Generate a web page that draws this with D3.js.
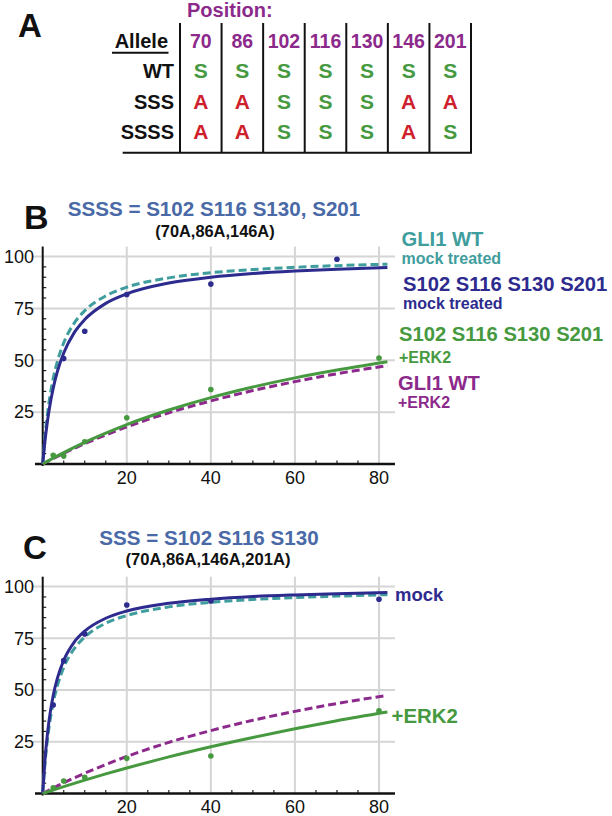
<!DOCTYPE html>
<html><head><meta charset="utf-8">
<script src="https://cdn.jsdelivr.net/npm/d3@7"></script>
<style>
html,body{margin:0;padding:0;background:#fff;}
svg{display:block;font-family:"Liberation Sans",Arial,Helvetica,sans-serif;}
</style></head>
<body>
<svg id="fig" width="612" height="816"></svg>
<script>
// ---------- Panel A data ----------
const positions = ["70","86","102","116","130","146","201"];
const alleles = ["WT","SSS","SSSS"];
const residues = [
  ["S","S","S","S","S","S","S"],
  ["A","A","S","S","S","A","A"],
  ["A","A","S","S","S","A","S"]
];

// ---------- Panels B/C data ----------
const xTicks = [20,40,60,80];
const yTicks = [25,50,75,100];
const curveX = [0,0.5,1,1.5,2.5,3.5,5,7.5,10,15,20,30,40,50,60,70,82];

// Panel B curves
const bWtMock   = [0,12.3,21.8,29.6,41.2,49.5,58.4,67.9,73.9,81.0,85.2,89.7,92.2,93.7,94.8,95.6,96.3];
const bSsssMock = [0,10.3,18.7,25.7,36.5,44.6,53.5,63.3,69.6,77.4,82.0,87.2,90.0,91.8,93.0,93.9,94.7];
const bSsssErk  = [0,0.58,1.15,1.72,2.83,3.92,5.51,8.05,10.46,14.9,19.0,26.0,32.0,37.1,41.5,45.3,49.3];
const bWtErk    = [0,0.54,1.07,1.6,2.64,3.66,5.15,7.54,9.81,14.0,17.9,24.7,30.4,35.4,39.7,43.5,47.4];
// Panel B measured points
const bPtsMockX = [5,10,20,40,70];
const bPtsMockY = [50.8,64,81.7,86.7,98.7];
const bPtsErkX  = [2.5,5,10,20,40,80];
const bPtsErkY  = [4.2,3.8,10.7,22.3,35.9,51.1];

// Panel C curves
const cWtMock  = [0,13.5,23.8,31.9,43.8,52.1,60.9,70.0,75.6,82.3,86.0,90.2,92.4,93.8,94.7,95.4,96.1];
const cSssMock = [0,15.2,26.4,35.1,47.4,55.8,64.4,73.2,78.5,84.7,88.2,91.9,93.9,95.2,96.0,96.6,97.2];
const cSssErk  = [0,0.34,0.67,1.01,1.67,2.33,3.31,4.9,6.46,9.46,12.3,17.7,22.6,27.1,31.3,35.2,39.4];
const cWtErk   = [0,0.54,1.07,1.6,2.64,3.66,5.15,7.54,9.81,14.0,17.9,24.7,30.4,35.4,39.7,43.5,47.4];
// Panel C measured points
const cPtsMockX = [2.5,5,10,20,40,80];
const cPtsMockY = [42.8,64.2,77.1,91.1,93.1,93.9];
const cPtsErkX  = [2.5,5,10,20,40,80];
const cPtsErkY  = [2.8,6,7.8,17,18.1,40];

// ---------- colours ----------
const PURPLE = "#8c2a8c", GREEN = "#46993f", RED = "#cf1f2d",
      TEAL = "#3f9d9d", NAVY = "#2d2b8e", TBLUE = "#4a69a7", GRID = "#d5d5d5";

const svg = d3.select("#fig");

function txt(g, x, y, s, size, color, anchor, weight) {
  return g.append("text").attr("x", x).attr("y", y).text(s)
    .attr("font-size", size).attr("fill", color || "#111")
    .attr("text-anchor", anchor || "start")
    .attr("font-weight", weight || "bold");
}

// ================= Panel A =================
const gA = svg.append("g");
txt(gA, 18, 37, "A", 33, "#111");
const colX = d3.scaleBand().domain(positions).range([180, 471]);
const rowY = d3.scalePoint().domain(alleles).range([78.3, 139.3]);
txt(gA, 187, 17, "Position:", 20, PURPLE);
txt(gA, 168, 48.3, "Allele", 20, "#111", "end");
gA.append("line").attr("x1", 112).attr("x2", 168.5).attr("y1", 52.7).attr("y2", 52.7)
  .attr("stroke", "#111").attr("stroke-width", 2);
positions.forEach(p => txt(gA, colX(p) + colX.bandwidth()/2, 48.3, p, 19.5, PURPLE, "middle"));
alleles.forEach((a, i) => {
  txt(gA, 174, rowY(a), a, 20, "#111", "end");
  residues[i].forEach((r, j) => {
    txt(gA, colX(positions[j]) + colX.bandwidth()/2, rowY(a), r, 21,
        r === "S" ? GREEN : RED, "middle");
  });
});
const vLines = positions.map(p => colX(p)).concat([colX.range()[1]]);
gA.selectAll("line.v").data(vLines).enter().append("line")
  .attr("x1", d => d).attr("x2", d => d).attr("y1", 23).attr("y2", 153)
  .attr("stroke", "#111").attr("stroke-width", 2);
gA.append("line").attr("x1", 122.7).attr("x2", 472).attr("y1", 152.7).attr("y2", 152.7)
  .attr("stroke", "#111").attr("stroke-width", 2);

// ================= plotting helper =================
function panel(cfg) {
  const g = svg.append("g");
  const x = d3.scaleLinear().domain([0, 80]).range([42.7, 379]);
  const y = d3.scaleLinear().domain([0, 100]).range([cfg.y0, cfg.y100]);
  const xEnd = x(83.8), yTop = y(104.8);

  // gridlines
  g.selectAll("line.hg").data(yTicks).enter().append("line")
    .attr("x1", 33).attr("x2", xEnd).attr("y1", d => y(d)).attr("y2", d => y(d))
    .attr("stroke", GRID).attr("stroke-width", 2);
  g.selectAll("line.vg").data(xTicks).enter().append("line")
    .attr("x1", d => x(d)).attr("x2", d => x(d)).attr("y1", yTop).attr("y2", y(0))
    .attr("stroke", GRID).attr("stroke-width", 2);

  // minor ticks
  const minor = d3.range(5, 84, 5).filter(v => v % 20 !== 0);
  g.selectAll("line.mx").data(minor).enter().append("line")
    .attr("x1", d => x(d)).attr("x2", d => x(d)).attr("y1", y(0)).attr("y2", y(0) - 3.5)
    .attr("stroke", "#222").attr("stroke-width", 1.2);
  const minorY = d3.range(5, 105, 5).filter(v => v % 25 !== 0);
  g.selectAll("line.my").data(minorY).enter().append("line")
    .attr("x1", x(0)).attr("x2", x(0) + 3.5).attr("y1", d => y(d)).attr("y2", d => y(d))
    .attr("stroke", "#222").attr("stroke-width", 1.2);

  // axes
  g.append("line").attr("x1", 35).attr("x2", xEnd).attr("y1", y(0)).attr("y2", y(0))
    .attr("stroke", "#111").attr("stroke-width", 2.5);
  g.append("line").attr("x1", x(0)).attr("x2", x(0)).attr("y1", y(0) + 2).attr("y2", yTop)
    .attr("stroke", "#111").attr("stroke-width", 2);

  // tick labels
  g.selectAll("text.xl").data(xTicks).enter().append("text")
    .attr("x", d => x(d)).attr("y", y(0) + 19.5).attr("text-anchor", "middle")
    .attr("font-size", 18).attr("fill", "#111").text(d => d);
  g.selectAll("text.yl").data(yTicks).enter().append("text")
    .attr("x", 34).attr("y", d => y(d) + 6.3).attr("text-anchor", "end")
    .attr("font-size", 18).attr("fill", "#111").text(d => d);

  // curves
  const line = d3.line().x((d, i) => x(curveX[i])).y(d => y(d)).curve(d3.curveMonotoneX);
  cfg.curves.forEach(c => {
    g.append("path").attr("d", line(c.v)).attr("fill", "none")
      .attr("stroke", c.color).attr("stroke-width", 3)
      .attr("stroke-dasharray", c.dash ? "8,4" : null);
  });
  // points
  cfg.points.forEach(p => {
    g.selectAll(null).data(p.xs).enter().append("circle")
      .attr("cx", d => x(d)).attr("cy", (d, i) => y(p.ys[i])).attr("r", 2.8)
      .attr("fill", p.color);
  });
  return g;
}

// ================= Panel B =================
panel({
  y0: 464, y100: 256.5,
  curves: [
    {v: bWtMock, color: TEAL, dash: true},
    {v: bSsssMock, color: NAVY},
    {v: bWtErk, color: PURPLE, dash: true},
    {v: bSsssErk, color: GREEN}
  ],
  points: [
    {xs: bPtsMockX, ys: bPtsMockY, color: NAVY},
    {xs: bPtsErkX, ys: bPtsErkY, color: GREEN}
  ]
});
txt(svg, 24, 228.5, "B", 34, "#111");
txt(svg, 214, 216, "SSSS = S102 S116 S130, S201", 20.6, TBLUE, "middle");
txt(svg, 215, 236.7, "(70A,86A,146A)", 16.4, "#111", "middle");
txt(svg, 401.5, 246.2, "GLI1 WT", 20.2, TEAL);
txt(svg, 401.5, 264.3, "mock treated", 16, TEAL);
txt(svg, 403, 291.2, "S102 S116 S130 S201", 20.2, NAVY);
txt(svg, 403, 309.3, "mock treated", 16, NAVY);
txt(svg, 399, 341.2, "S102 S116 S130 S201", 20.2, GREEN);
txt(svg, 399, 362.5, "+ERK2", 16, GREEN);
txt(svg, 398, 389.5, "GLI1 WT", 20.2, PURPLE);
txt(svg, 398, 407.5, "+ERK2", 16, PURPLE);

// ================= Panel C =================
panel({
  y0: 793.5, y100: 586.6,
  curves: [
    {v: cWtMock, color: TEAL, dash: true},
    {v: cSssMock, color: NAVY},
    {v: cWtErk, color: PURPLE, dash: true},
    {v: cSssErk, color: GREEN}
  ],
  points: [
    {xs: cPtsMockX, ys: cPtsMockY, color: NAVY},
    {xs: cPtsErkX, ys: cPtsErkY, color: GREEN}
  ]
});
txt(svg, 23, 558.5, "C", 33, "#111");
txt(svg, 209, 544.5, "SSS = S102 S116 S130", 20.6, TBLUE, "middle");
txt(svg, 208, 565, "(70A,86A,146A,201A)", 16.6, "#111", "middle");
txt(svg, 395, 600.7, "mock", 18.5, NAVY);
txt(svg, 391.5, 722.7, "+ERK2", 20.4, GREEN);
</script>
</body></html>
